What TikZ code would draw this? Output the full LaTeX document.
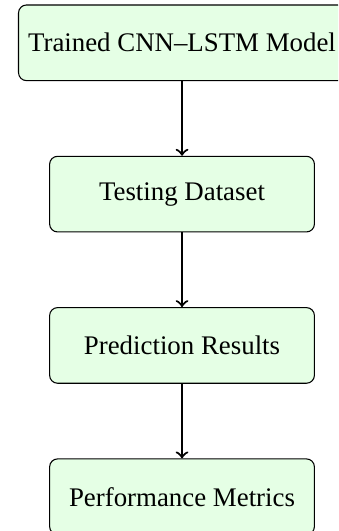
\documentclass[tikz,border=0pt]{standalone}
\usepackage{fontspec}
\setmainfont{Liberation Serif}
\begin{document}
\begin{tikzpicture}[
  stage/.style={draw, rounded corners=3pt, fill=green!10, line width=0.4pt,
    inner xsep=3.6pt, minimum width=3.5cm, minimum height=1cm, align=center,
    font=\fontsize{10.1}{12}\selectfont},
  flow/.style={->, thick}
]
  % page frame; the frame also cuts off whatever reaches past it
  \useasboundingbox (0,0) rectangle (4.468,-7.019);
  \clip (0,0) rectangle (4.468,-7.019);

  \node[stage] (model)   at (2.406,-0.566) {Trained CNN–LSTM Model};
  \node[stage] (test)    at (2.406,-2.566) {Testing Dataset};
  \node[stage] (pred)    at (2.406,-4.566) {Prediction Results};
  \node[stage] (metrics) at (2.406,-6.566) {Performance Metrics};

  \draw[flow] (model) -- (test);
  \draw[flow] (test) -- (pred);
  \draw[flow] (pred) -- (metrics);
\end{tikzpicture}
\end{document}
